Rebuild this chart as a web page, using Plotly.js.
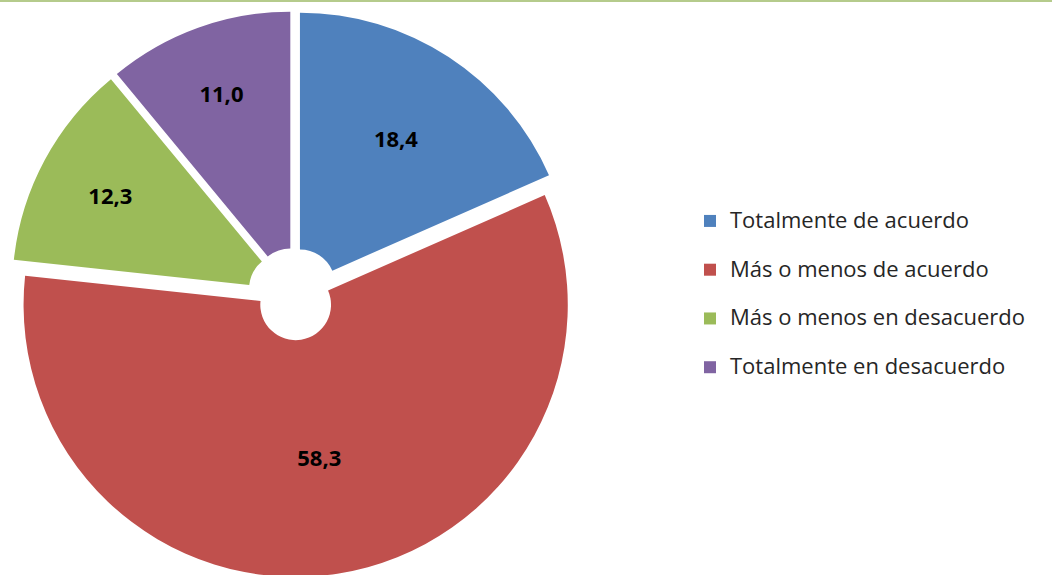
<!DOCTYPE html>
<html>
<head>
<meta charset="utf-8">
<script src="https://cdn.plot.ly/plotly-3.0.1.min.js"></script>
<style>
html, body { margin:0; padding:0; width:1052px; height:575px; overflow:hidden; background:#fff; }
#chart { width:1052px; height:588px; }
</style>
</head>
<body>
<div id="chart"></div>
<script>
// Data
const categories = ["Totalmente de acuerdo", "Más o menos de acuerdo", "Más o menos en desacuerdo", "Totalmente en desacuerdo"];
const values = [18.4, 58.3, 12.3, 11.0];
const valueLabels = ["18,4", "58,3", "12,3", "11,0"];
const colors = ["#4F81BD", "#C0504D", "#9BBB59", "#8064A2"];

// Legend labels: category text plus a spacer line to reproduce the legend's row spacing
const legendLabels = categories.map(c => '<span style="font-size:22px">' + c + '</span><br>&nbsp;');

const trace = {
  type: 'pie',
  labels: legendLabels,
  values: values,
  text: valueLabels,
  texttemplate: '%{text}',
  textinfo: 'text',
  textposition: 'inside',
  insidetextorientation: 'horizontal',
  textfont: { family: 'Open Sans, sans-serif', size: 22, color: '#000000', weight: 'bold' },
  marker: { colors: colors, line: { width: 0 } },
  sort: false,
  direction: 'clockwise',
  rotation: 0,
  hole: 0.13,
  pull: 0.04,
  domain: { x: [11/1052, 577/1052], y: [1 - 577/588, 1 - 11/588] },
  hoverinfo: 'none'
};

const layout = {
  width: 1052,
  height: 588,
  margin: { l: 0, r: 0, t: 0, b: 0 },
  paper_bgcolor: '#ffffff',
  showlegend: true,
  legend: {
    x: 690/1052, xanchor: 'left',
    y: 1 - 203/588, yanchor: 'top',
    font: { family: 'Open Sans, sans-serif', size: 17.6, color: '#262626' },
    valign: 'top',
    bgcolor: 'rgba(0,0,0,0)',
    borderwidth: 0
  },
  shapes: [{
    type: 'line', xref: 'paper', yref: 'paper',
    x0: 0, x1: 1, y0: 1 - 1/588, y1: 1 - 1/588,
    line: { color: '#B5CB8C', width: 2 }
  }]
};

Plotly.newPlot('chart', [trace], layout, { displayModeBar: false, staticPlot: true });
</script>
</body>
</html>
